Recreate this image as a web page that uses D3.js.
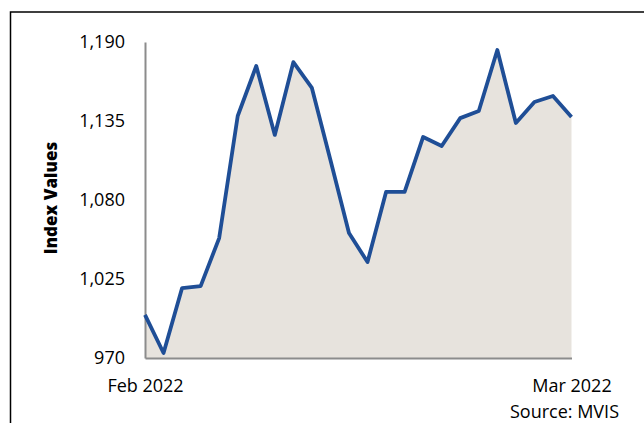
<!DOCTYPE html>
<html>
<head>
<meta charset="utf-8">
<script src="https://cdn.jsdelivr.net/npm/d3@7"></script>
<style>
	body { margin: 0; background: #fff; }
	svg { display: block; font-family: "Open Sans", "Liberation Sans", sans-serif; }
</style>
</head>
<body>
<div id="chart"></div>
<script>
const width = 644;
const height = 423;

// weekly index levels, Feb 2022 -> Mar 2022
const values = [
	1000, 973.5, 1018.7, 1020, 1053.5, 1138.5, 1173.3, 1125.3, 1176, 1158, 1107.8, 1057,
	1036.8, 1085.6, 1085.6, 1123.9, 1117.6, 1137, 1142, 1184.4, 1133.6, 1148.2, 1152.4, 1137.8,
];
const yTicks = [970, 1025, 1080, 1135, 1190];
const xLabels = ["Feb 2022", "Mar 2022"];
const source = "Source: MVIS";
const yTitle = "Index Values";

const svg = d3
	.select("#chart")
	.append("svg")
	.attr("width", width)
	.attr("height", height);

// outer frame (runs off the right/bottom edge)
svg
	.append("rect")
	.attr("x", 10.5)
	.attr("y", 12)
	.attr("width", 700)
	.attr("height", 500)
	.attr("fill", "none")
	.attr("stroke", "#000")
	.attr("stroke-width", 1.5);

const x = d3.scaleLinear().domain([0, values.length - 1]).range([145, 571.5]);
const y = d3.scaleLinear().domain([970, 1190]).range([358, 42]);

const area = d3
	.area()
	.x((d, i) => x(i))
	.y0(y(970))
	.y1(d => y(d));

const line = d3
	.line()
	.x((d, i) => x(i))
	.y(d => y(d));

svg.append("path").datum(values).attr("d", area).attr("fill", "#e7e3dd");

// axes
const yAxis = svg
	.append("g")
	.attr("transform", `translate(${x(0)},0)`)
	.call(d3.axisLeft(y).tickValues(yTicks).tickFormat(d3.format(",")).tickSize(0).tickPadding(20));

const xAxis = svg
	.append("g")
	.attr("transform", `translate(0,${y(970)})`)
	.call(
		d3
			.axisBottom(x)
			.tickValues([0, values.length - 1])
			.tickFormat((d, i) => xLabels[i])
			.tickSize(0)
			.tickPadding(21),
	);

[yAxis, xAxis].forEach(g => {
	g.select(".domain").attr("stroke", "#8c8c8c").attr("stroke-width", 2);
	g.selectAll("text").attr("fill", "#000").style("font-size", "18px").style("font-family", "'Open Sans', sans-serif");
});

svg
	.append("path")
	.datum(values)
	.attr("d", line)
	.attr("fill", "none")
	.attr("stroke", "#1f4e96")
	.attr("stroke-width", 3.8)
	.attr("stroke-linejoin", "round");

svg
	.append("text")
	.attr("transform", "translate(57,198) rotate(-90)")
	.attr("text-anchor", "middle")
	.style("font-size", "17px")
	.style("font-weight", "800")
	.text(yTitle);

svg
	.append("text")
	.attr("x", 619)
	.attr("y", 418)
	.attr("text-anchor", "end")
	.style("font-size", "18px")
	.text(source);
</script>
</body>
</html>
